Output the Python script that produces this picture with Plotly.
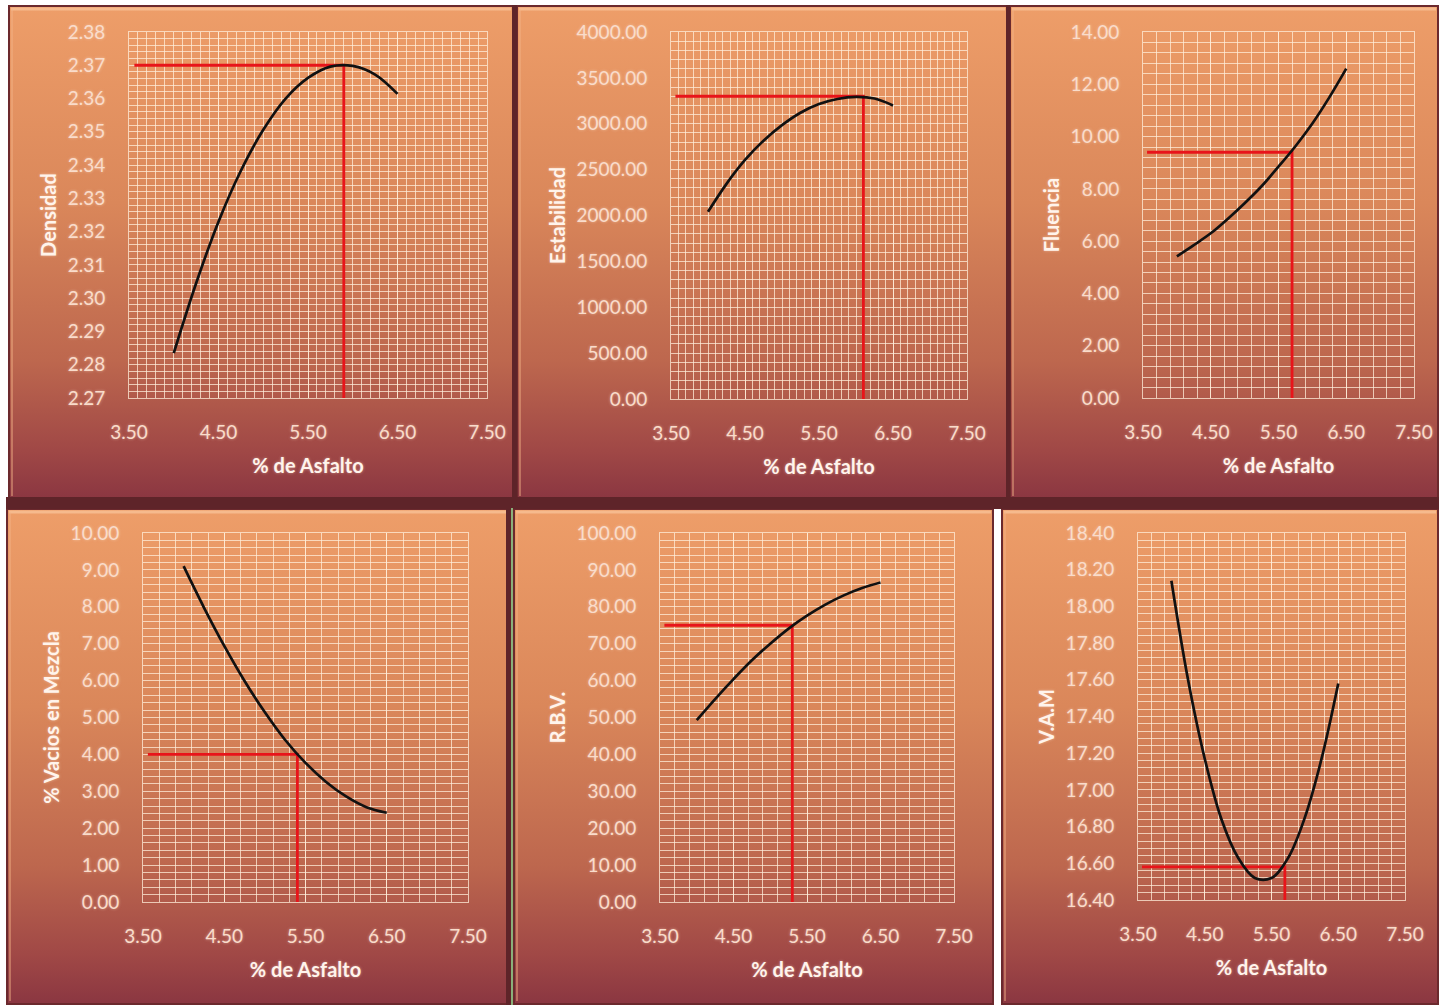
import base64
import plotly.graph_objects as go

W, H = 1439, 1005

# ---- data: Marshall mix design curves ----
asfalto = [4.00, 4.25, 4.50, 4.75, 5.00, 5.25, 5.50, 5.75, 6.00, 6.25, 6.50]
densidad = [2.2835, 2.3045, 2.3230, 2.3383, 2.3506, 2.3600, 2.3662, 2.3696, 2.3698, 2.3672, 2.3614]
estabilidad = [2040, 2345, 2605, 2815, 2985, 3120, 3215, 3270, 3292, 3275, 3200]
fluencia = [5.42, 5.85, 6.30, 6.85, 7.45, 8.10, 8.85, 9.63, 10.50, 11.50, 12.60]
vacios = [9.10, 7.98, 6.94, 5.99, 5.14, 4.39, 3.77, 3.26, 2.86, 2.57, 2.42]
rbv = [49.3, 55.0, 60.4, 65.5, 70.0, 74.1, 77.6, 80.6, 83.1, 85.1, 86.6]
vam = [18.14, 17.60, 17.17, 16.84, 16.63, 16.52, 16.52, 16.63, 16.85, 17.17, 17.58]

series = [densidad, estabilidad, fluencia, vacios, rbv, vam]
titulos_y = ["Densidad", "Estabilidad", "Fluencia", "% Vacios en Mezcla", "R.B.V.", "V.A.M"]
titulo_x = "% de Asfalto"

# optimum asphalt content and the value read on each curve (red guide lines)
guia_inicio = 3.56
optimo_asfalto = [5.90, 6.10, 5.70, 5.40, 5.30, 5.70]
optimo_valor = [2.370, 3300.0, 9.40, 4.00, 75.0, 16.58]

# axis scales
x_ticks = [3.5, 4.5, 5.5, 6.5, 7.5]
rango_x = [3.5, 7.5]
rangos_y = [(2.27, 2.38), (0, 4000), (0, 14), (0, 10), (0, 100), (16.4, 18.4)]
paso_y = [0.01, 500, 2, 1, 10, 0.2]
paso_menor_y = [0.002, 100, 0.4, 0.2, 2, 0.04]
paso_menor_x = [0.1, 0.1, 0.2, 0.2, 0.2, 0.2]

# ---- layout geometry (pixels) ----
# plot areas: left, top, right, bottom
areas = [
    (129, 32, 487, 398),
    (671, 32, 967, 399),
    (1143, 32, 1414, 398),
    (143, 533, 468, 902),
    (660, 533, 954, 902),
    (1138, 533, 1405, 900),
]
# chart frames behind each plot
marcos = [
    (8, 5, 514, 500),
    (516, 5, 1008, 500),
    (1009, 5, 1439, 500),
    (6, 508, 511, 1005),
    (513, 508, 994, 1005),
    (1001, 508, 1439, 1005),
]

GRID = "rgba(255,238,218,0.75)"
TICK_COLOR = "#F9DCCB"
TITLE_COLOR = "#FFF4EC"
FONT = "Lato"


def marco_svg(w, h):
    svg = f'''<svg xmlns="http://www.w3.org/2000/svg" width="{w}" height="{h}" viewBox="0 0 {w} {h}" preserveAspectRatio="none">
<defs><linearGradient id="g" x1="0" y1="0" x2="0" y2="1">
<stop offset="0" stop-color="#EE9E69"/>
<stop offset="0.40" stop-color="#DA875A"/>
<stop offset="0.72" stop-color="#BD674E"/>
<stop offset="0.90" stop-color="#A04846"/>
<stop offset="1" stop-color="#8A3641"/>
</linearGradient></defs>
<rect x="0" y="0" width="{w}" height="{h}" fill="url(#g)"/>
<rect x="1" y="1" width="{w - 2}" height="{h - 2}" fill="none" stroke="#6B292D" stroke-width="2"/>
<line x1="3" y1="4" x2="{w - 3}" y2="4" stroke="#F9C49A" stroke-width="3" opacity="0.75"/>
<line x1="4" y1="4" x2="4" y2="{h - 4}" stroke="#F4B488" stroke-width="2" opacity="0.45"/>
</svg>'''
    return "data:image/svg+xml;base64," + base64.b64encode(svg.encode()).decode()


fig = go.Figure()

for i, serie in enumerate(series):
    ax = "" if i == 0 else str(i + 1)
    ymin = rangos_y[i][0]
    # red guide: horizontal to the curve, then down to the x axis
    fig.add_trace(go.Scatter(
        x=[guia_inicio, optimo_asfalto[i], optimo_asfalto[i]],
        y=[optimo_valor[i], optimo_valor[i], ymin],
        mode="lines", line=dict(color="#E8141A", width=2.8),
        xaxis="x" + ax, yaxis="y" + ax, showlegend=False, hoverinfo="skip"))
    fig.add_trace(go.Scatter(
        x=asfalto, y=serie, mode="lines",
        line=dict(color="#111111", width=2.7, shape="spline", smoothing=1.0),
        xaxis="x" + ax, yaxis="y" + ax, showlegend=False))

layout = dict(
    width=W, height=H,
    margin=dict(l=0, r=0, t=0, b=0, autoexpand=False),
    paper_bgcolor="#FFFFFF",
    plot_bgcolor="rgba(0,0,0,0)",
    showlegend=False,
    images=[],
    shapes=[],
)

# dark separators between frames
separadores = [
    (6, 497, 1439, 509, "#5E2429"),
    (512, 5, 517, 500, "#5E2429"),
    (1006, 5, 1010, 500, "#5E2429"),
    (506, 508, 512, 1005, "#5E2429"),
    (511, 508, 513, 1005, "#8BB07A"),
]
for x0, y0, x1, y1, c in separadores:
    layout["shapes"].append(dict(
        type="rect", xref="paper", yref="paper", layer="below",
        x0=x0 / W, x1=x1 / W, y0=1 - y1 / H, y1=1 - y0 / H,
        fillcolor=c, line=dict(width=0)))

for (x0, y0, x1, y1) in marcos:
    layout["images"].append(dict(
        source=marco_svg(x1 - x0, y1 - y0), xref="paper", yref="paper",
        x=x0 / W, y=1 - y0 / H, sizex=(x1 - x0) / W, sizey=(y1 - y0) / H,
        xanchor="left", yanchor="top", sizing="stretch", layer="below"))

tick_font = dict(family=FONT, size=19, color=TICK_COLOR,
                 shadow="0px 0px 3px rgba(255,225,205,0.55)")
title_font = dict(family=FONT, size=20, color=TITLE_COLOR, weight="bold",
                  shadow="0px 0px 3px rgba(255,230,210,0.5)")

for i, (l, t, r, b) in enumerate(areas):
    ax = "" if i == 0 else str(i + 1)
    layout["xaxis" + ax] = dict(
        domain=[l / W, r / W], anchor="y" + ax, range=rango_x,
        tickvals=x_ticks, tickformat=".2f", ticks="",
        ticklabelstandoff=17, tickfont=tick_font, automargin=False,
        showgrid=True, gridcolor=GRID, gridwidth=1,
        minor=dict(tick0=3.5, dtick=paso_menor_x[i], showgrid=True,
                   gridcolor=GRID, gridwidth=1),
        showline=True, linecolor=GRID, linewidth=1, mirror=True,
        zeroline=False, fixedrange=True,
        title=dict(text=titulo_x, font=title_font, standoff=17),
    )
    y0, y1 = rangos_y[i]
    layout["yaxis" + ax] = dict(
        domain=[1 - b / H, 1 - t / H], anchor="x" + ax, range=[y0, y1],
        tick0=y0, dtick=paso_y[i], tickformat=".2f", ticks="",
        ticklabelstandoff=19, tickfont=tick_font, automargin=False,
        showgrid=True, gridcolor=GRID, gridwidth=1,
        minor=dict(tick0=y0, dtick=paso_menor_y[i], showgrid=True,
                   gridcolor=GRID, gridwidth=1),
        showline=True, linecolor=GRID, linewidth=1, mirror=True,
        zeroline=False, fixedrange=True,
        title=dict(text=titulos_y[i], font=title_font, standoff=5),
    )

fig.update_layout(**layout)
fig.write_html(
    "out.html",
    config={"displayModeBar": False},
    post_script="document.body.style.margin='0';document.body.style.overflow='hidden';",
)
